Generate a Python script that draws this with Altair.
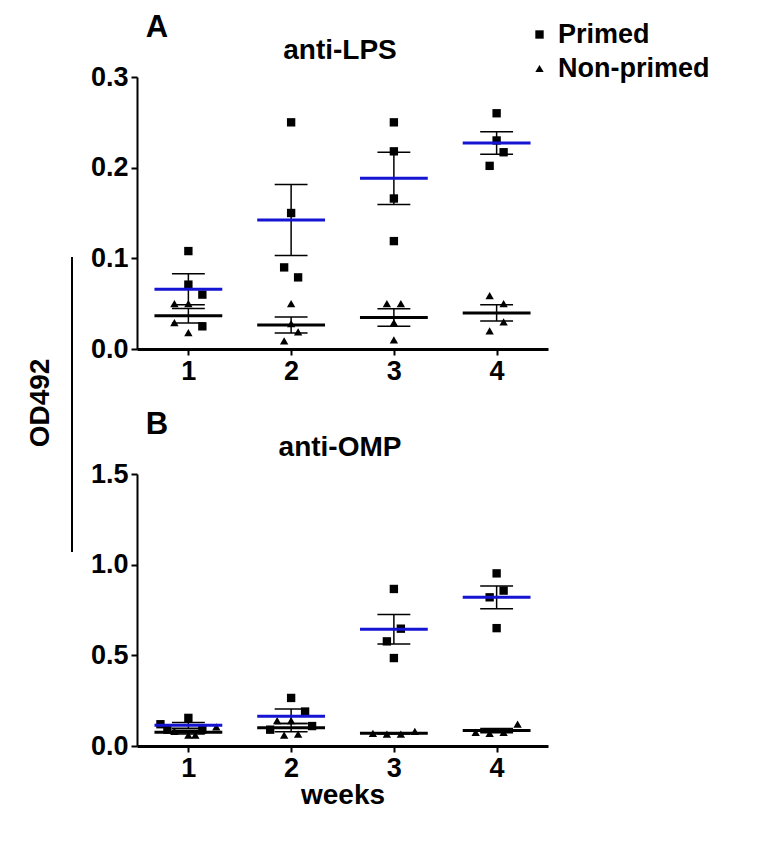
import altair as alt
import pandas as pd

# ---------------- data ----------------
weeks = [1, 2, 3, 4]
groups = ["Primed", "Non-primed"]
panel_letters = ["A", "B"]
panel_titles = ["anti-LPS", "anti-OMP"]
y_title = "OD492"
x_title = "weeks"

# anti-LPS (panel A), 4 animals per week and group
lps_primed = [[0.108, 0.071, 0.060, 0.025],
              [0.250, 0.150, 0.090, 0.079],
              [0.250, 0.218, 0.166, 0.119],
              [0.260, 0.230, 0.217, 0.202]]
lps_primed_col = [[0, 0, 2, 2], [0, 0, -1, 1], [0, 0, 0, 0], [0, 0, 1, -1]]
lps_nonprimed = [[0.050, 0.050, 0.029, 0.018],
                 [0.050, 0.028, 0.019, 0.009],
                 [0.050, 0.050, 0.029, 0.010],
                 [0.059, 0.050, 0.030, 0.020]]
lps_nonprimed_col = [[-2, 0, -2, 0], [0, 0, 1, -1], [-1, 1, 0, 0], [-1, 1, 1, -1]]

# anti-OMP (panel B)
omp_primed = [[0.155, 0.120, 0.090, 0.090],
              [0.265, 0.190, 0.110, 0.090],
              [0.866, 0.647, 0.577, 0.485],
              [0.952, 0.857, 0.820, 0.650]]
omp_primed_col = [[0, -4, -3, 2], [0, 2, 3, -3], [0, 1, -1, 0], [0, 1, -1, 0]]
omp_nonprimed = [[0.105, 0.060, 0.060, 0.080],
                 [0.140, 0.140, 0.060, 0.065],
                 [0.070, 0.065, 0.065, 0.080],
                 [0.075, 0.070, 0.075, 0.120]]
omp_nonprimed_col = [[4, 0, 1, -2], [-2, 0, -1, 1], [-3, -1, 1, 3], [-3, -1, 1, 3]]

lps_ticks = [0.0, 0.1, 0.2, 0.3]
omp_ticks = [0.0, 0.5, 1.0, 1.5]


def frame(primed, primed_col, nonprimed, nonprimed_col):
    rows = []
    for i, w in enumerate(weeks):
        for v, c in zip(primed[i], primed_col[i]):
            rows.append({"week": w, "group": groups[0], "od": v, "col": c})
        for v, c in zip(nonprimed[i], nonprimed_col[i]):
            rows.append({"week": w, "group": groups[1], "od": v, "col": c})
    return pd.DataFrame(rows)


FONT = "Liberation Sans"
FS = 27
TFS = 28
BLUE = "#1414d2"
W, H = 411, 272

x_scale = alt.Scale(domain=[0.5, 4.5], nice=False, zero=False)
shape_scale = alt.Scale(domain=groups, range=["square", "triangle-up"])
color_scale = alt.Scale(domain=groups, range=[BLUE, "black"])


def panel(df, ticks, idx, with_x_title, with_ylabel):
    ymax = ticks[-1]
    y_scale = alt.Scale(domain=[0, ymax], nice=False)
    y_axis = alt.Axis(values=ticks, format=".1f", title=None, labelPadding=3)
    if with_x_title:
        x_axis = alt.Axis(values=weeks, format="d", title=x_title, titlePadding=0)
    else:
        x_axis = alt.Axis(values=weeks, format="d", title=None)

    base = alt.Chart(df)
    pts = base.transform_calculate(xj="datum.week + datum.col * 0.068").mark_point(
        filled=True, opacity=1, color="black", size=70
    ).encode(
        x=alt.X("xj:Q", scale=x_scale, axis=x_axis),
        y=alt.Y("od:Q", scale=y_scale, axis=y_axis),
        shape=alt.Shape("group:N", scale=shape_scale, sort=groups,
                        legend=alt.Legend(title=None, orient="none", legendX=389, legendY=-56,
                                          labelFont=FONT, labelFontSize=27, labelFontWeight="bold",
                                          labelColor="black", symbolSize=70, symbolFillColor="black",
                                          symbolStrokeColor="black", symbolStrokeWidth=0,
                                          rowPadding=6, labelOffset=5)),
    )
    stats = base.transform_aggregate(
        m="mean(od)", sd="stdev(od)", n="count()", groupby=["week", "group"]
    ).transform_calculate(
        sem="datum.sd / sqrt(datum.n)",
        lo="datum.m - datum.sem", hi="datum.m + datum.sem",
        cl="datum.week - 0.16", cr="datum.week + 0.16",
        ml="datum.week - 0.33", mr="datum.week + 0.33",
        mgroup="datum.group",
    )
    vbar = stats.mark_rule(color="black", strokeWidth=1.5).encode(
        x=alt.X("week:Q", scale=x_scale), y=alt.Y("lo:Q", scale=y_scale), y2="hi:Q")
    cap_hi = stats.mark_rule(color="black", strokeWidth=1.5).encode(
        x=alt.X("cl:Q", scale=x_scale), x2="cr:Q", y=alt.Y("hi:Q", scale=y_scale))
    cap_lo = stats.mark_rule(color="black", strokeWidth=1.5).encode(
        x=alt.X("cl:Q", scale=x_scale), x2="cr:Q", y=alt.Y("lo:Q", scale=y_scale))
    mean = stats.mark_rule(strokeWidth=3).encode(
        x=alt.X("ml:Q", scale=x_scale), x2="mr:Q", y=alt.Y("m:Q", scale=y_scale),
        color=alt.Color("mgroup:N", scale=color_scale, legend=None))

    lab = alt.Chart(pd.DataFrame({"t": [panel_letters[idx]]})).mark_text(
        font=FONT, fontSize=31, fontWeight="bold", color="black", align="center", baseline="middle"
    ).encode(text="t:N", x=alt.value(20), y=alt.value(-49))
    ttl = alt.Chart(pd.DataFrame({"t": [panel_titles[idx]]})).mark_text(
        font=FONT, fontSize=TFS, fontWeight="bold", color="black", align="center", baseline="middle"
    ).encode(text="t:N", x=alt.value(203), y=alt.value(-26))

    layers = [pts, vbar, cap_hi, cap_lo, mean, lab, ttl]
    if with_ylabel:
        ylab = alt.Chart(pd.DataFrame({"t": [y_title]})).mark_text(
            font=FONT, fontSize=TFS, fontWeight="bold", color="black", align="center",
            baseline="middle", angle=270
        ).encode(text="t:N", x=alt.value(-96), y=alt.value(326))
        bracket = alt.Chart(pd.DataFrame({"t": [y_title]})).mark_rule(
            color="black", strokeWidth=2
        ).encode(x=alt.value(-65), y=alt.value(180), y2=alt.value(475))
        layers += [ylab, bracket]
    return alt.layer(*layers).properties(width=W, height=H)


dfA = frame(lps_primed, lps_primed_col, lps_nonprimed, lps_nonprimed_col)
dfB = frame(omp_primed, omp_primed_col, omp_nonprimed, omp_nonprimed_col)

chart = alt.vconcat(
    panel(dfA, lps_ticks, 0, False, True),
    panel(dfB, omp_ticks, 1, True, False),
    spacing=125, bounds="flush",
).properties(
    padding={"left": 19, "top": 4, "right": 5, "bottom": 5}
).configure_view(stroke=None).configure_axis(
    grid=False, domainColor="black", domainWidth=2, tickColor="black", tickWidth=2, tickSize=6,
    labelFont=FONT, labelFontSize=FS, labelFontWeight="bold", labelColor="black",
    titleFont=FONT, titleFontSize=TFS, titleFontWeight="bold", titleColor="black",
).configure_axisX(domainWidth=3, labelPadding=3)

chart.save("out.html", embed_options={"renderer": "svg", "actions": False})
